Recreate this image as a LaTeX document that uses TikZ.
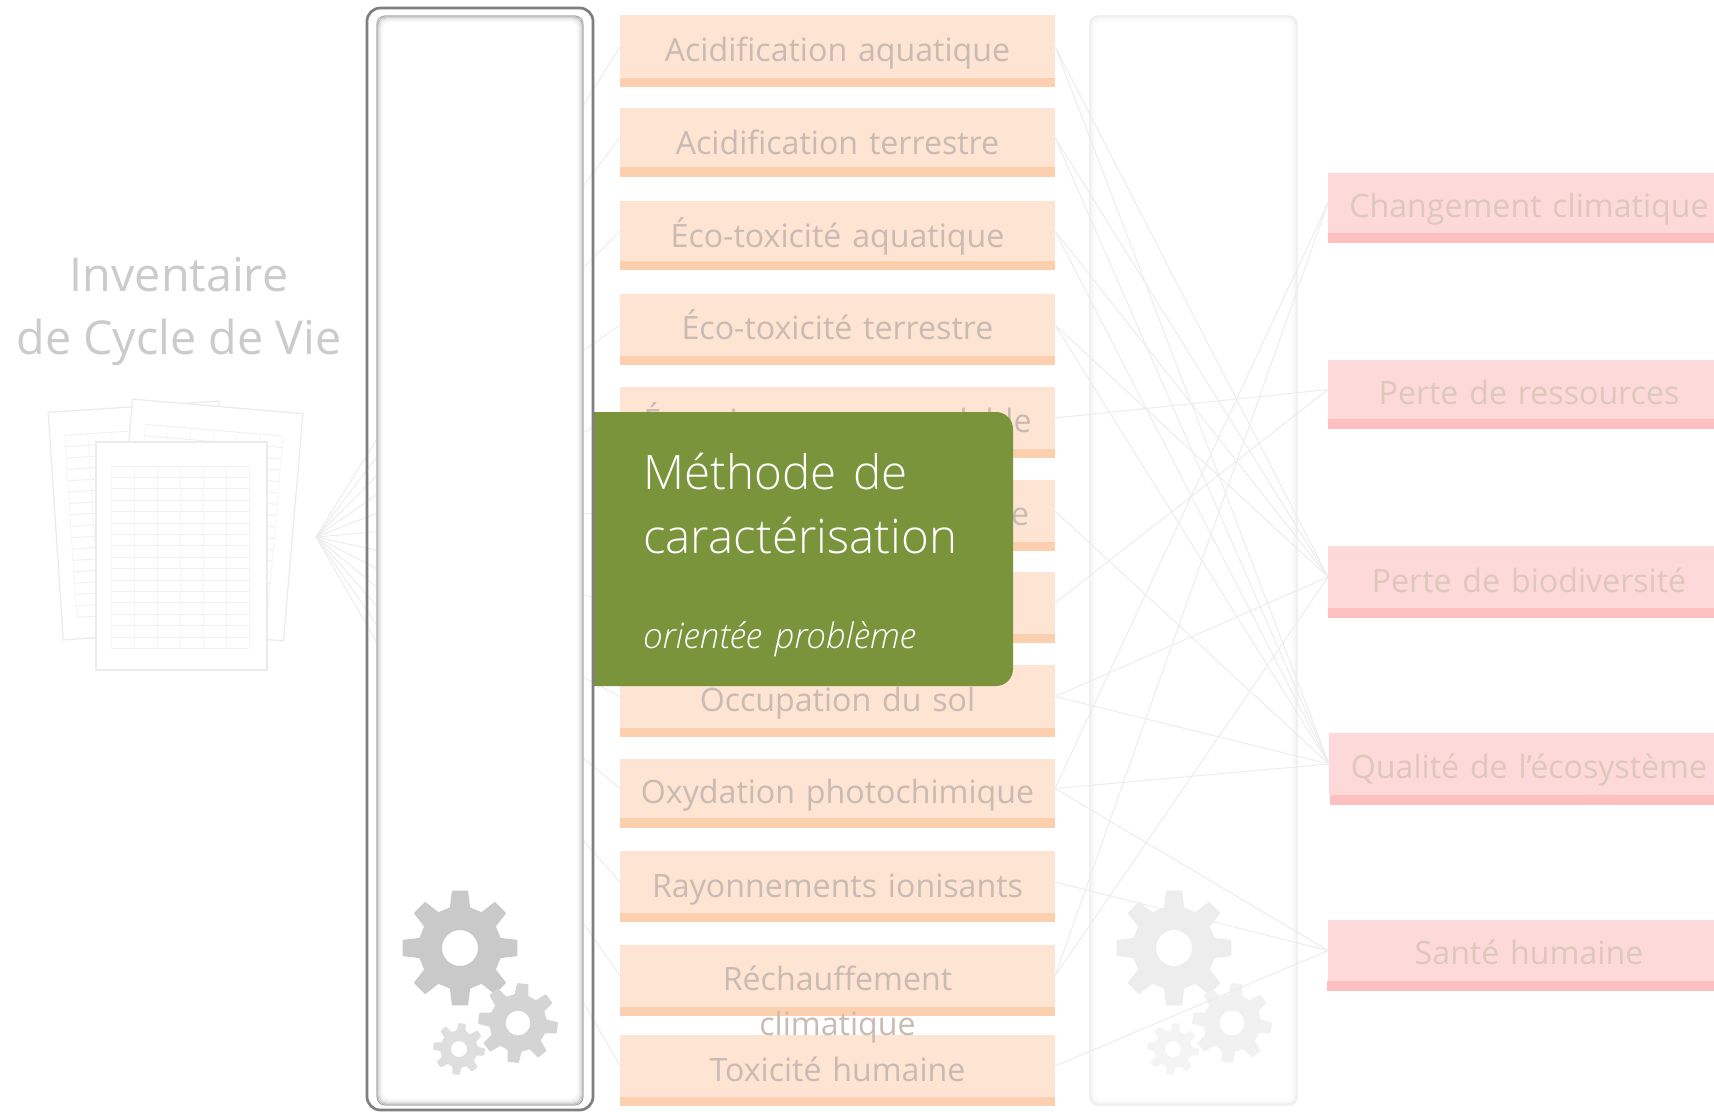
\documentclass[tikz,border=0pt]{standalone}
\usepackage{fontspec}
\setmainfont{Open Sans}[WordSpace=1.3]
\newfontfamily\titlefont{Open Sans}
\newfontfamily\lightfont{Open Sans Light}[WordSpace=1.4]
\definecolor{peach}{HTML}{FEE4D2}
\definecolor{peachband}{HTML}{FCD0AE}
\definecolor{pinkbox}{HTML}{FDD9DA}
\definecolor{pinkband}{HTML}{FEBFC1}
\definecolor{oliveg}{HTML}{79943B}
\definecolor{linkc}{HTML}{EDEDED}
\definecolor{midtext}{HTML}{C9BBB3}
\definecolor{righttext}{HTML}{DEC8BC}
\definecolor{titlec}{HTML}{CBCBCB}
\definecolor{framec}{HTML}{7F7F7F}
\definecolor{pagec}{HTML}{EBEBEB}
\definecolor{gridc}{HTML}{F1F1F1}
\definecolor{gridv}{HTML}{F5F5F5}
\tikzset{
  x=0.75pt,y=-0.75pt,
  link/.style={draw=linkc,line width=0.75pt},
  boxfill/.style={rectangle,inner sep=0pt,outer sep=0pt,anchor=north west},
  midlabel/.style={anchor=base,inner sep=0pt,text=midtext,font=\fontsize{24.1}{28}\selectfont},
  rightlabel/.style={anchor=base,inner sep=0pt,text=righttext,font=\fontsize{24.1}{28}\selectfont},
  titlelabel/.style={anchor=base,inner sep=0pt,text=titlec,font=\titlefont\fontsize{35}{40}\selectfont},
  cardtitle/.style={anchor=base west,inner sep=0pt,text=white,font=\lightfont\fontsize{35.6}{40}\selectfont},
  cardsub/.style={anchor=base west,inner sep=0pt,text=white,font=\lightfont\itshape\fontsize{26.4}{30}\selectfont},
  panel/.style={rectangle,fill=white,inner sep=0pt,outer sep=0pt,anchor=north west,rounded corners=6pt}
}
\newcommand\midbox[4]{%
  \pgfmathsetlengthmacro\hh{(#3-#2)*0.75}%
  \node[boxfill,fill=peach,minimum width=326.25pt,minimum height=\hh] (#1) at (620,#2) {};
  \fill[peachband] (620,#3) rectangle (1055,#4);
}
\newcommand\rightbox[6]{%
  \pgfmathsetlengthmacro\hh{(#4-#3)*0.75}%
  \pgfmathsetlengthmacro\ww{(1714-#2)*0.75}%
  \node[boxfill,fill=pinkbox,minimum width=\ww,minimum height=\hh] (#1) at (#2,#3) {};
  \fill[pinkband] (#6,#4) rectangle (1714,#5);
}
\newcommand\gearshape[5]{%
  \begin{scope}[shift={(#1,#2)}]
  \pgfmathsetmacro\rr{#3*0.72}\pgfmathsetmacro\hr{#3*0.31}\pgfmathsetmacro\RR{#3}
  \fill[#5,even odd rule,rounded corners=0.6pt]
    ({#4-15}:\rr) \foreach \a in {0,45,...,315} {
      -- ({\a+#4-14}:\rr) -- ({\a+#4-8}:\RR) -- ({\a+#4+8}:\RR) -- ({\a+#4+14}:\rr) } -- cycle
    (0,0) circle [radius=\hr];
  \end{scope}
}
\newcommand\sheet[3]{%
  \begin{scope}[shift={(#1,#2)},rotate=#3]
  \draw[pagec,fill=white,line width=0.9pt] (-85.5,-114) rectangle (85.5,114);
  \foreach \i in {0,...,16} \draw[gridc,line width=0.75pt] (-70.5,{-90+\i*11.4}) -- (67.5,{-90+\i*11.4});
  \foreach \i in {0,...,6} \draw[gridv,line width=0.6pt] ({-70.5+\i*23},-90) -- ({-70.5+\i*23},92.4);
  \end{scope}
}
\begin{document}
\begin{tikzpicture}
\useasboundingbox (0,0) rectangle (1714,1111);
\fill[white] (0,0) rectangle (1714,1111);
\sheet{141}{520.5}{3.8}
\sheet{208}{520}{-4.9}
\sheet{181.5}{556}{0}
\midbox{m1}{15}{78}{87}
\midbox{m2}{108}{167}{177}
\midbox{m3}{201}{261}{270}
\midbox{m4}{294}{356}{365}
\midbox{m5}{387}{449}{458}
\midbox{m6}{480}{542}{551}
\midbox{m7}{572}{634}{643}
\midbox{m8}{665}{728}{737}
\midbox{m9}{759}{818}{828}
\midbox{m10}{851}{913}{922}
\midbox{m11}{945}{1007}{1016}
\midbox{m12}{1035}{1097}{1106}
\rightbox{r1}{1328}{173}{233}{243}{1328}
\rightbox{r2}{1328}{360}{419}{429}{1328}
\rightbox{r3}{1328}{546}{608}{618}{1328}
\rightbox{r4}{1329}{733}{795}{805}{1330}
\rightbox{r5}{1328}{920}{981}{991}{1327}
\coordinate (src) at (316,537);
\foreach \i in {1,...,12} \draw[link] (src) -- (m\i.west);
\node[panel,minimum width=154.5pt,minimum height=816.75pt] (lp) at (377,16) {};
\foreach \i/\c in {0/34,1/26,2/17,3/10,4/6,5/3}
  \draw[black!\c,line width=0.8pt,rounded corners=6pt] (377+\i,16+\i) rectangle (583-\i,1105-\i);
\gearshape{460}{948}{58}{0}{black!21}
\gearshape{518}{1023}{40}{7}{black!17}
\gearshape{459}{1049}{26}{7}{black!13}
\node[panel,minimum width=155.25pt,minimum height=816.75pt] (rp) at (1090,16) {};
\foreach \i/\c in {0/8,1/6,2/4,3/2.5,4/1.5,5/0.7}
  \draw[black!\c,line width=0.8pt,rounded corners=6pt] (1090+\i,16+\i) rectangle (1297-\i,1105-\i);
\gearshape{1174}{948}{58}{0}{black!7}
\gearshape{1232}{1023}{40}{7}{black!5.5}
\gearshape{1173}{1049}{26}{7}{black!4.5}
\foreach \a/\b in {m1/r3,m1/r4,m2/r3,m2/r4,m3/r3,m3/r4,m4/r3,m4/r4,m5/r2,m6/r4,m7/r2,m8/r3,m8/r4,m9/r1,m9/r4,m9/r5,m10/r5,m11/r1,m11/r3,m12/r5}
  \draw[link] (\a.east) -- (\b.west);
\node[midlabel] (t1) at (837.5,61) {Acidification aquatique};
\node[midlabel] (t2) at (837.5,154) {Acidification terrestre};
\node[midlabel] (t3) at (837.5,247) {Éco-toxicité aquatique};
\node[midlabel] (t4) at (837.5,339) {Éco-toxicité terrestre};
\node[midlabel] (t5) at (837.5,432) {Énergie non renouvelable};
\node[midlabel] (t6) at (837.5,525) {Eutrophisation aquatique};
\node[midlabel] (t8) at (837.5,711) {Occupation du sol};
\node[midlabel] (t9) at (837.5,803) {Oxydation photochimique};
\node[midlabel] (t10) at (837.5,897) {Rayonnements ionisants};
\node[midlabel] (t11) at (837.5,990) {Réchauffement};
\node[midlabel] (t11b) at (837.5,1035) {climatique};
\node[midlabel] (t12) at (837.5,1081) {Toxicité humaine};
\node[rightlabel] (u1) at (1529,217) {Changement climatique};
\node[rightlabel] (u2) at (1529,404) {Perte de ressources};
\node[rightlabel] (u3) at (1529,592) {Perte de biodiversité};
\node[rightlabel] (u4) at (1529,778) {Qualité de l’écosystème};
\node[rightlabel] (u5) at (1529,964) {Santé humaine};
\node[titlelabel] (ti1) at (179,291) {Inventaire};
\node[titlelabel] (ti2) at (179,354) {de Cycle de Vie};
\fill[oliveg] (593,412) [rounded corners=12.75pt] -- (1013,412) -- (1013,686) [sharp corners] -- (593,686) -- cycle;
\node[cardtitle] (g1) at (643,489) {Méthode de};
\node[cardtitle] (g2) at (643,553) {caractérisation};
\node[cardsub] (g3) at (643,648) {orientée problème};
\node[rectangle,draw=framec,line width=2pt,rounded corners=10pt,inner sep=0pt,outer sep=0pt,minimum width=169.5pt,minimum height=826.5pt,anchor=north west] (frame) at (367,8) {};
\end{tikzpicture}
\end{document}
